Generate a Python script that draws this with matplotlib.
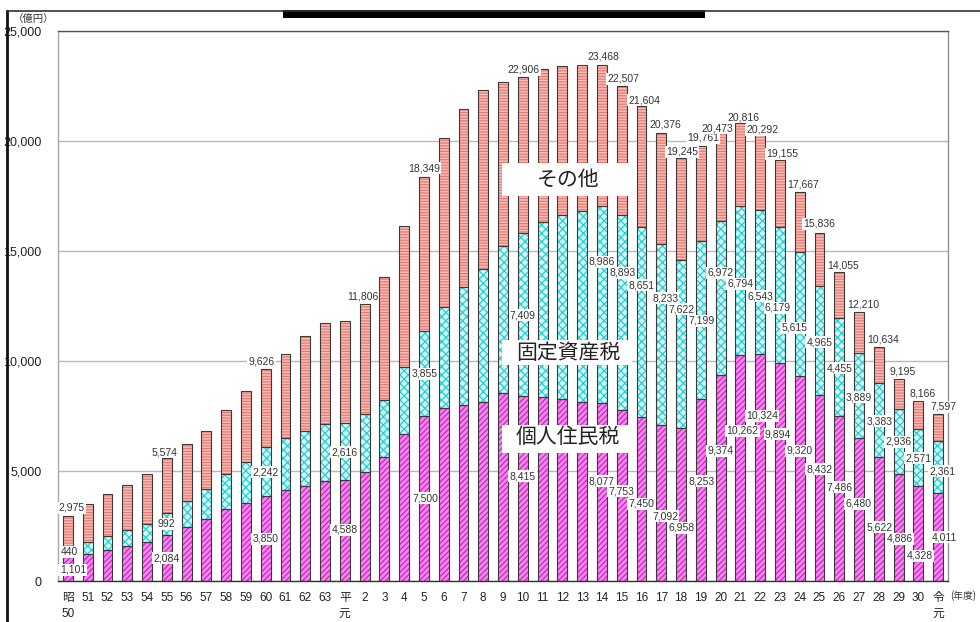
import matplotlib
matplotlib.use("Agg")
import matplotlib.pyplot as plt
from matplotlib.patches import Rectangle
from matplotlib.lines import Line2D

plt.rcParams['font.family'] = ['Liberation Sans', 'Noto Sans CJK JP']
plt.rcParams['hatch.linewidth'] = 0.9

# ---- data (億円) ----
years = ['昭\n50', '51', '52', '53', '54', '55', '56', '57', '58', '59', '60',
         '61', '62', '63', '平\n元', '2', '3', '4', '5', '6', '7', '8', '9', '10',
         '11', '12', '13', '14', '15', '16', '17', '18', '19', '20', '21', '22',
         '23', '24', '25', '26', '27', '28', '29', '30', '令\n元']

personal = [1101, 1230, 1410, 1590, 1770, 2084, 2450, 2820, 3270, 3540, 3850,
            4140, 4320, 4550, 4588, 4950, 5640, 6680, 7500, 7860, 7980, 8150,
            8540, 8415, 8360, 8280, 8140, 8077, 7753, 7450, 7092, 6958, 8253,
            9374, 10262, 10324, 9894, 9320, 8432, 7486, 6480, 5622, 4886, 4328,
            4011]

fixed_asset = [440, 540, 635, 730, 820, 992, 1180, 1370, 1590, 1870, 2242,
               2360, 2500, 2590, 2616, 2640, 2590, 3050, 3855, 4600, 5380, 6030,
               6690, 7409, 7960, 8360, 8690, 8986, 8893, 8651, 8233, 7622, 7199,
               6972, 6794, 6543, 6179, 5615, 4965, 4455, 3889, 3383, 2936, 2571,
               2361]

total = [2975, 3500, 3950, 4360, 4860, 5574, 6230, 6820, 7770, 8640, 9626,
         10320, 11140, 11730, 11806, 12590, 13820, 16140, 18349, 20140, 21450,
         22320, 22680, 22906, 23270, 23420, 23440, 23468, 22507, 21604, 20376,
         19245, 19761, 20473, 20816, 20292, 19155, 17667, 15836, 14055, 12210,
         10634, 9195, 8166, 7597]

other = [t - p - f for t, p, f in zip(total, personal, fixed_asset)]
series = {'personal': personal, 'fixed': fixed_asset, 'total': total}

# value labels: (bar index, series, x shift, label height)
value_labels = [
    (0, 'total', 0.2, 3320), (0, 'fixed', 0.1, 1320), (0, 'personal', 0.25, 500),
    (5, 'total', -0.1, 5860), (5, 'fixed', 0.0, 2590), (5, 'personal', 0.0, 1045),
    (10, 'total', -0.2, 10000), (10, 'fixed', 0.0, 4950), (10, 'personal', 0.0, 1910),
    (14, 'total', 0.9, 12950), (14, 'fixed', 0.0, 5860), (14, 'personal', 0.0, 2320),
    (18, 'total', 0.0, 18770), (18, 'fixed', 0.05, 9410), (18, 'personal', 0.05, 3770),
    (23, 'total', 0.05, 23230), (23, 'fixed', 0.0, 12090), (23, 'personal', 0.0, 4770),
    (27, 'total', 0.1, 23820), (27, 'fixed', 0.0, 14500), (27, 'personal', 0.0, 4545),
    (28, 'total', 0.1, 22820), (28, 'fixed', 0.05, 14000), (28, 'personal', 0.0, 4090),
    (29, 'total', 0.15, 21860), (29, 'fixed', 0.0, 13450), (29, 'personal', 0.0, 3500),
    (30, 'total', 0.2, 20770), (30, 'fixed', 0.2, 12860), (30, 'personal', 0.2, 2950),
    (31, 'total', 0.05, 19500), (31, 'fixed', 0.05, 12360), (31, 'personal', 0.05, 2410),
    (32, 'total', 0.1, 20140), (32, 'fixed', 0.05, 11820), (32, 'personal', 0.05, 4545),
    (33, 'total', -0.15, 20590), (33, 'fixed', 0.0, 14000), (33, 'personal', 0.0, 5910),
    (34, 'total', 0.15, 21090), (34, 'fixed', 0.0, 13500), (34, 'personal', 0.1, 6820),
    (35, 'total', 0.1, 20500), (35, 'fixed', 0.0, 12950), (35, 'personal', 0.1, 7500),
    (36, 'total', 0.1, 19410), (36, 'fixed', -0.1, 12410), (36, 'personal', -0.1, 6680),
    (37, 'total', 0.15, 18045), (37, 'fixed', -0.25, 11500), (37, 'personal', 0.0, 5910),
    (38, 'total', 0.0, 16230), (38, 'fixed', 0.0, 10860), (38, 'personal', 0.0, 5090),
    (39, 'total', 0.2, 14360), (39, 'fixed', 0.0, 9680), (39, 'personal', 0.0, 4270),
    (40, 'total', 0.2, 12590), (40, 'fixed', 0.0, 8360), (40, 'personal', -0.05, 3500),
    (41, 'total', 0.2, 11000), (41, 'fixed', 0.05, 7270), (41, 'personal', 0.05, 2450),
    (42, 'total', 0.2, 9545), (42, 'fixed', 0.0, 6320), (42, 'personal', 0.05, 1910),
    (43, 'total', 0.2, 8500), (43, 'fixed', 0.0, 5590), (43, 'personal', 0.05, 1140),
    (44, 'total', 0.25, 7910), (44, 'fixed', 0.2, 5000), (44, 'personal', 0.3, 2000),
]

# ---- figure ----
fig = plt.figure(figsize=(9.8, 6.22), dpi=100)
ax = fig.add_axes([58 / 980, 41 / 622, 890 / 980, 550 / 622])

x = list(range(len(years)))
w = 0.5

styles = [
    (personal, [0] * len(x), '#f28ae9', '#d51fcb', '//////'),
    (fixed_asset, personal, '#d2f8f8', '#22cfd3', 'xxxx'),
    (other, [p + f for p, f in zip(personal, fixed_asset)], '#f9c0ba', '#ec776f', '------'),
]
for vals, base, face, hcol, hatch in styles:
    ax.bar(x, vals, w, bottom=base, color=face, edgecolor=hcol, hatch=hatch,
           linewidth=0, zorder=2)
    ax.bar(x, vals, w, bottom=base, fill=False, edgecolor='#3a3a3a',
           linewidth=0.8, zorder=3)

ax.set_xlim(-0.5, len(years) - 0.5)
ax.set_ylim(0, 25000)
ax.set_yticks(range(0, 25001, 5000))
ax.set_yticklabels(['0', '5,000', '10,000', '15,000', '20,000', '25,000'])
ax.set_xticks(x)
ax.set_xticklabels(years, linespacing=1.45)
ax.tick_params(axis='y', length=0, pad=12, labelsize=9, labelcolor='#222222')
ax.tick_params(axis='x', length=0, pad=8, labelsize=8.5, labelcolor='#222222')
for t in ax.get_xticklabels():
    t.set_verticalalignment('top')

ax.grid(axis='y', color='#b8b8b8', linewidth=1.0, zorder=0)
ax.set_axisbelow(True)
ax.spines['left'].set_color('#a8a8a8')
ax.spines['right'].set_color('#909090')
ax.spines['top'].set_color('#555555')
ax.spines['bottom'].set_color('#333333')
for s in ax.spines.values():
    s.set_linewidth(1.0)

# category captions on white panels
captions = [('その他', 18230, 17500, 19000),
            ('固定資産税', 10360, 9820, 10950),
            ('個人住民税', 6545, 5820, 7090)]
for text, ty, y0, y1 in captions:
    ax.add_patch(Rectangle((21.95, y0), 6.55, y1 - y0, facecolor='white',
                           edgecolor='none', zorder=4))
    ax.text(25.3, ty, text, ha='center', va='center', fontsize=15,
            family=['Noto Sans CJK JP'], color='#222222', zorder=5)

# value labels
for i, key, dx, ly in value_labels:
    ax.text(i + dx, ly, f"{series[key][i]:,}", ha='center', va='center',
            fontsize=7.5, family=['Liberation Sans Narrow', 'Liberation Sans'],
            color='#333333', zorder=6,
            bbox=dict(boxstyle='square,pad=0.12', facecolor='white',
                      edgecolor='none'))

# unit captions
fig.text(34 / 980, 1 - 19 / 622, '（億円）', ha='center', va='center',
         fontsize=7.5, color='#333333', family=['Noto Sans CJK JP'])
fig.text(950 / 980, 1 - 596 / 622, '(年度)', ha='left', va='center',
         fontsize=7, color='#333333', family=['Noto Sans CJK JP'])

# page frame
fig.add_artist(Line2D([7 / 980, 7 / 980], [0, 1 - 11 / 622], color='#111111',
                      linewidth=2.0, transform=fig.transFigure))
fig.add_artist(Line2D([7 / 980, 1], [1 - 11 / 622, 1 - 11 / 622],
                      color='#333333', linewidth=1.2, transform=fig.transFigure))
fig.add_artist(Rectangle((283 / 980, 1 - 18 / 622), 422 / 980, 8 / 622,
                         facecolor='black', edgecolor='none',
                         transform=fig.transFigure))

fig.savefig('out.png', dpi=100, facecolor='white')
